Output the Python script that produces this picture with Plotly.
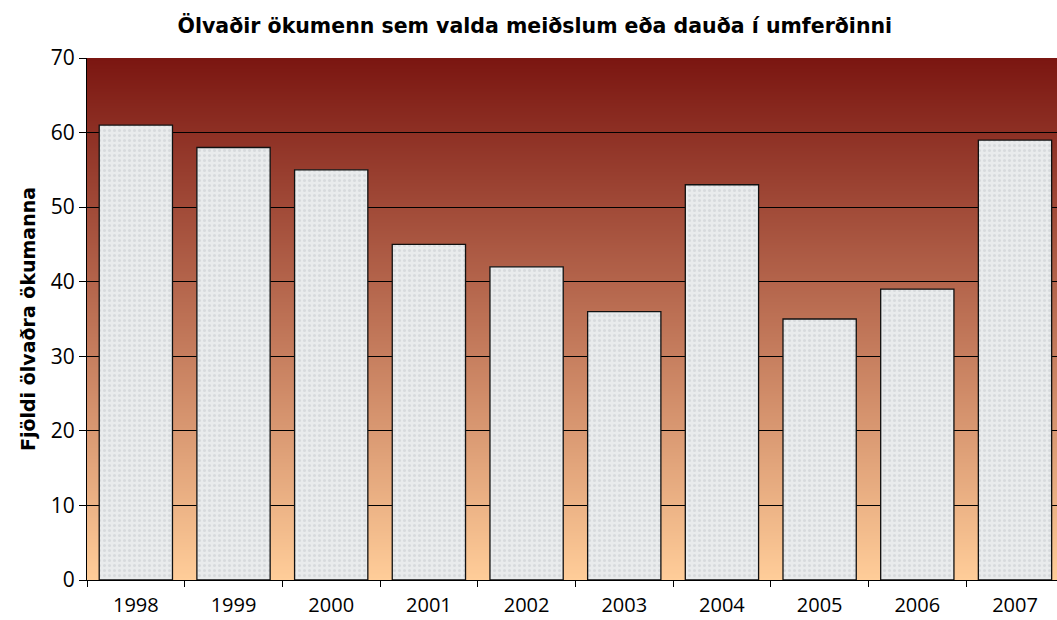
import base64
import struct
import zlib

import plotly.graph_objects as go

# Drunk drivers causing injury or death in traffic, per year
years = ["1998", "1999", "2000", "2001", "2002", "2003", "2004", "2005", "2006", "2007"]
drivers = [61, 58, 55, 45, 42, 36, 53, 35, 39, 59]

y_ticks = [0, 10, 20, 30, 40, 50, 60, 70]

title_text = "Ölvaðir ökumenn sem valda meiðslum eða dauða í umferðinni"
y_title = "Fjöldi ölvaðra ökumanna"

# Vertical background gradient (dark red at the top, peach at the bottom),
# encoded as a 1-pixel-wide PNG that is stretched over the plot area.
top_rgb = (123, 22, 17)
bottom_rgb = (255, 205, 153)


def gradient_png(height=512):
    raw = bytearray()
    for i in range(height):
        t = i / (height - 1)
        px = [round(top_rgb[k] + (bottom_rgb[k] - top_rgb[k]) * t) for k in range(3)]
        raw += b"\x00" + bytes(px)

    def chunk(tag, data):
        c = tag + data
        return struct.pack(">I", len(data)) + c + struct.pack(">I", zlib.crc32(c) & 0xFFFFFFFF)

    ihdr = struct.pack(">IIBBBBB", 1, height, 8, 2, 0, 0, 0)
    png = (b"\x89PNG\r\n\x1a\n" + chunk(b"IHDR", ihdr)
           + chunk(b"IDAT", zlib.compress(bytes(raw), 9)) + chunk(b"IEND", b""))
    return "data:image/png;base64," + base64.b64encode(png).decode()


fig = go.Figure(go.Bar(
    x=years,
    y=drivers,
    width=0.75,
    marker=dict(
        color="#e6e8ea",
        line=dict(color="#111111", width=1.3),
        pattern=dict(shape=".", fgcolor="#c5c9cd", bgcolor="#e9ebec",
                     size=5, solidity=0.3),
    ),
    hoverinfo="x+y",
))

fig.add_layout_image(
    source=gradient_png(),
    xref="paper", yref="paper", x=0, y=1, sizex=1, sizey=1,
    xanchor="left", yanchor="top", sizing="stretch", layer="below",
)

fig.update_layout(
    width=1057, height=620,
    margin=dict(l=87, r=0, t=58, b=40, autoexpand=False),
    paper_bgcolor="white",
    plot_bgcolor="#ffcd99",
    showlegend=False,
    bargap=0.25,
    title=dict(
        text=f"<b>{title_text}</b>",
        x=0.506, xanchor="center", y=0.958, yanchor="middle",
        font=dict(family="DejaVu Sans", size=20.5, color="black"),
    ),
    font=dict(family="Open Sans", size=20, color="black"),
)

fig.update_xaxes(
    type="category",
    range=[-0.5, 9.43],
    automargin=False,
    tickson="boundaries",
    ticks="outside", ticklen=6, tickcolor="black", tickwidth=1,
    showline=True, linecolor="black", linewidth=1.2,
    showgrid=False,
    ticklabelstandoff=7,
    tickfont=dict(family="Open Sans", size=20, color="black"),
)

fig.update_yaxes(
    range=[0, 70],
    tickvals=y_ticks,
    automargin=False,
    ticks="outside", ticklen=7, tickcolor="black", tickwidth=1,
    showline=True, linecolor="black", linewidth=1.2,
    showgrid=True, gridcolor="black", gridwidth=1,
    zeroline=False,
    tickfont=dict(family="Open Sans", size=21, color="black"),
    title=dict(text=f"<b>{y_title}</b>", standoff=10,
               font=dict(family="DejaVu Sans", size=19, color="black")),
)

fig.write_html("out.html")
